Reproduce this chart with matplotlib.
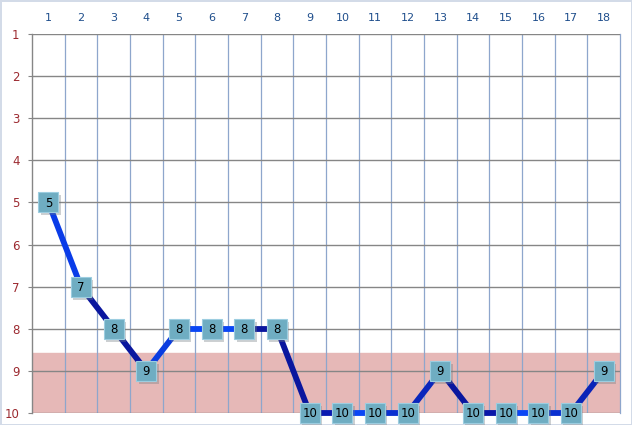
import numpy as np
import matplotlib.pyplot as plt

# data
rounds = list(range(1, 19))
position = [5, 7, 8, 9, 8, 8, 8, 8, 10, 10, 10, 10, 9, 10, 10, 10, 10, 9]
danger_from = 8.58

# segment shades (style)
seg_colors = ['#0a3ce8', '#0a169e', '#0a169e', '#0a3ce0', '#0a46f5', '#0a46f5',
              '#0a169e', '#0a169e', '#0a1ab0', '#0a46f5', '#0a30d0', '#0a26bc',
              '#0a169e', '#0a18a8', '#0a46f5', '#0a30d0', '#0a24b8']

fig = plt.figure(figsize=(6.32, 4.25), dpi=100)
fig.patch.set_facecolor('white')
fig.patch.set_edgecolor('#d3dbe8')
fig.patch.set_linewidth(2)
ax = fig.add_axes([32 / 632, 12 / 425, 588 / 632, 379 / 425])

ax.set_xlim(0.5, 18.5)
ax.set_ylim(10, 1)

# pink zone
ax.axhspan(danger_from, 10, color='#e6b8b7', zorder=0)

# grid
for x in np.arange(1.5, 18.5, 1):
    ax.axvline(x, color='#8ea6cc', lw=0.9, zorder=1)
ax.axvline(18.5, color='#8ea6cc', lw=0.9, zorder=1, clip_on=False)
for y in range(1, 11):
    ax.axhline(y, color='#868686', lw=1.0, zorder=1)

for s in ax.spines.values():
    s.set_visible(False)
ax.axvline(0.5, color='#868686', lw=1.0, zorder=1, clip_on=False)

# line segments
for i in range(len(rounds) - 1):
    ax.plot(rounds[i:i + 2], position[i:i + 2], color=seg_colors[i], lw=4.2,
            solid_capstyle='butt', zorder=3, clip_on=False)

# markers with values (soft shadow first)
ax.plot(np.array(rounds) + 0.07, np.array(position) + 0.07, 's', ms=14,
        color='#707a80', alpha=0.35, markeredgewidth=0, zorder=4, clip_on=False)
ax.plot(rounds, position, 's', ms=14, markerfacecolor='#6fadc2',
        markeredgecolor='#9ccde0', markeredgewidth=0.8, zorder=5, clip_on=False)
for x, y in zip(rounds, position):
    ax.text(x, y + 0.02, str(y), ha='center', va='center', fontsize=8.5,
            color='black', zorder=6, clip_on=False)

ax.xaxis.tick_top()
ax.set_xticks(rounds)
ax.set_xticklabels([str(r) for r in rounds], color='#1f4e8c', fontsize=8)
ax.tick_params(axis='x', length=0, pad=8)
ax.set_yticks(range(1, 11))
ax.set_yticklabels([str(v) for v in range(1, 11)], color='#9c2a30', fontsize=8.5)
ax.tick_params(axis='y', length=3, color='#868686', pad=6)

fig.savefig('out.png', dpi=100)
